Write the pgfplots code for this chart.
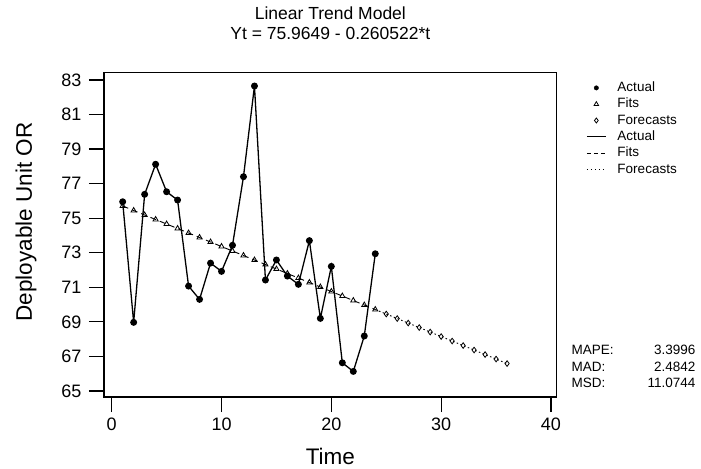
\documentclass[border=0pt]{standalone}
\usepackage{fontspec}
\setmainfont{Liberation Sans}
\usepackage{pgfplots}
\pgfplotsset{compat=1.18}

% actual series, t = 1..24
\pgfplotstableread{
t   y
1   75.95
2   68.97
3   76.38
4   78.12
5   76.53
6   76.05
7   71.07
8   70.30
9   72.40
10  71.92
11  73.43
12  77.40
13  82.65
14  71.42
15  72.58
16  71.65
17  71.17
18  73.70
19  69.20
20  72.21
21  66.63
22  66.13
23  68.18
24  72.94
}\actual

% fitted trend, t = 1..24
\pgfplotstableread{
t   y
1   75.7044
2   75.4439
3   75.1833
4   74.9228
5   74.6623
6   74.4018
7   74.1412
8   73.8807
9   73.6202
10  73.3597
11  73.0992
12  72.8386
13  72.5781
14  72.3176
15  72.0571
16  71.7965
17  71.5360
18  71.2755
19  71.0150
20  70.7545
21  70.4939
22  70.2334
23  69.9729
24  69.7124
}\fits

% forecasts, t = 25..36 (first row joins the fitted line)
\pgfplotstableread{
t   y
24  69.7124
25  69.4518
26  69.1913
27  68.9308
28  68.6703
29  68.4098
30  68.1492
31  67.8887
32  67.6282
33  67.3677
34  67.1071
35  66.8466
36  66.5861
}\forecasts

\begin{document}
\begin{tikzpicture}
\useasboundingbox (0,0) rectangle (701bp,469bp);
\begin{axis}[
    at={(104bp,72bp)}, anchor=south west,
    scale only axis, width=452.7bp, height=324.3bp,
    xmin=-0.7, xmax=40.52, ymin=64.65, ymax=83.42,
    xtick={0,10,20,30,40}, ytick={65,67,...,83},
    tick pos=left, tick align=outside, major tick length=15bp,
    axis line style={line width=1.2bp},
    tick style={black, line width=1.2bp},
    every tick label/.append style={font=\fontsize{18bp}{21bp}\selectfont},
    xticklabel style={yshift=-2bp},
    yticklabel style={xshift=-4bp},
    /pgf/number format/assume math mode=true,
    xlabel={Time}, ylabel={Deployable Unit OR},
    label style={font=\fontsize{22.5bp}{26bp}\selectfont},
    xlabel style={at={(axis description cs:0.5,-0.182)}, anchor=center},
    ylabel style={at={(axis description cs:-0.172,0.54)}, anchor=center},
    title={Linear Trend Model\\Yt = 75.9649 - 0.260522*t},
    title style={at={(axis description cs:0.5,1.134)}, anchor=center, align=center,
        font=\fontsize{17.5bp}{20bp}\selectfont},
    legend style={at={(1.0647,0.973)}, anchor=north west, draw=none, fill=none,
        inner sep=0pt, row sep=3.8bp,
        font=\fontsize{13.5bp}{15bp}\selectfont,
        nodes={inner xsep=3bp, inner ysep=0pt, text height=10bp, text depth=2.5bp},
        /tikz/column 1/.style={column sep=8bp}},
    legend cell align=left,
    legend image code/.code={\draw[mark repeat=2,mark phase=2,#1]
        plot coordinates {(0bp,0bp)(9.5bp,0bp)(19bp,0bp)};},
]
\addplot[black, line width=1.3bp, mark=*, mark size=2.8bp, forget plot]
    table[x=t, y=y] {\actual};
\addplot[black, line width=0.9bp, dash pattern=on 6bp off 4bp,
    mark=triangle, mark size=3bp, mark options={solid, line width=0.8bp}, forget plot]
    table[x=t, y=y] {\fits};
\addplot[black, line width=0.9bp, dash pattern=on 1.5bp off 2.5bp,
    mark=diamond, mark size=2.8bp, mark options={solid, line width=0.8bp},
    mark indices={2,...,13}, forget plot]
    table[x=t, y=y] {\forecasts};

\addlegendimage{black, only marks, mark=*, mark size=2.2bp}
\addlegendentry{Actual}
\addlegendimage{black, only marks, mark=triangle, mark size=2.6bp, mark options={line width=0.8bp}}
\addlegendentry{Fits}
\addlegendimage{black, only marks, mark=diamond, mark size=2.5bp, mark options={line width=0.8bp}}
\addlegendentry{Forecasts}
\addlegendimage{black, line width=1.3bp}
\addlegendentry{Actual}
\addlegendimage{black, line width=0.9bp, dash pattern=on 4bp off 3bp}
\addlegendentry{Fits}
\addlegendimage{black, line width=0.9bp, dash pattern=on 1.5bp off 2.5bp}
\addlegendentry{Forecasts}
\end{axis}

\begin{scope}[font=\fontsize{13.5bp}{15bp}\selectfont]
\node[anchor=base west] at (568bp,114.5bp) {MAPE:};
\node[anchor=base west] at (568bp,97.8bp) {MAD:};
\node[anchor=base west] at (568bp,81.5bp) {MSD:};
\node[anchor=base east] at (699bp,114.5bp) {3.3996};
\node[anchor=base east] at (699bp,97.8bp) {2.4842};
\node[anchor=base east] at (699bp,81.5bp) {11.0744};
\end{scope}
\end{tikzpicture}
\end{document}
